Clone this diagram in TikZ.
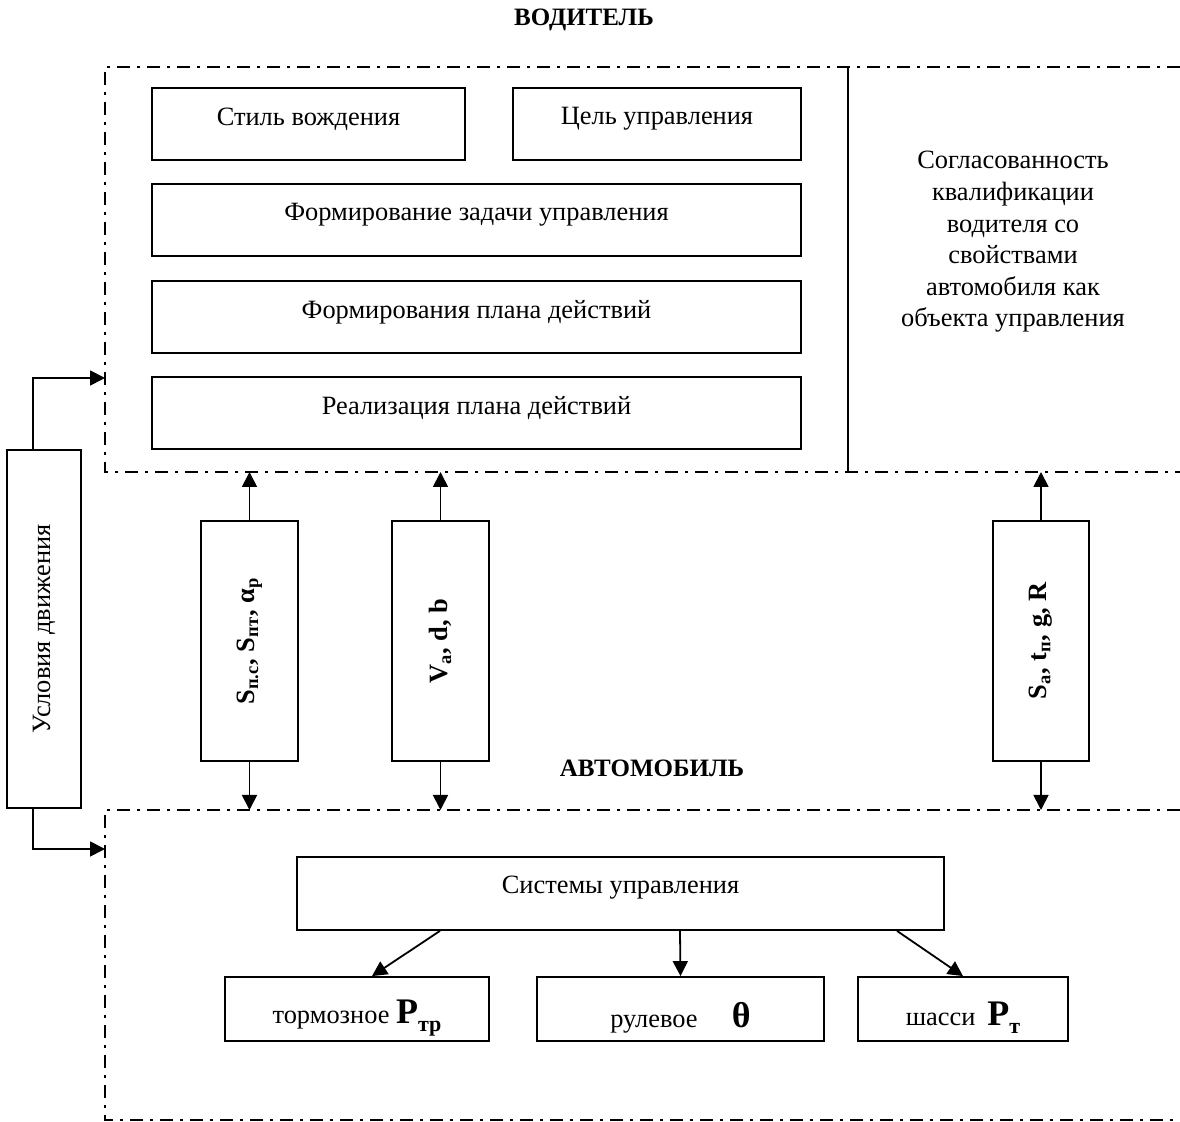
\documentclass[tikz,border=0pt]{standalone}
\usepackage{fontspec}
\setmainfont{Liberation Serif}
\usepackage{graphicx}
\usetikzlibrary{arrows.meta}

\tikzset{
  box/.style={draw, line width=0.9pt, inner sep=0pt, align=center},
  frameline/.style={line width=0.9pt, dash pattern=on 6.5pt off 3.5pt on 1.5pt off 3.5pt},
  arr/.style={line width=0.9pt, -{Triangle[length=7.5pt,width=7.5pt]}},
  title/.style={font=\fontsize{12.5pt}{15pt}\selectfont\bfseries},
}
\newcommand\sub[1]{\textsubscript{#1}}
% shift box text without changing the box size
\newcommand\up[2]{\raisebox{#1}[\height][\depth]{#2}}
\newcommand\bigsym[1]{{\fontsize{18pt}{18pt}\selectfont\bfseries #1}}
\newcommand\bigsub[1]{\raisebox{-0.3em}{\fontsize{11pt}{11pt}\selectfont\bfseries #1}}

\begin{document}
\begin{tikzpicture}[x=0.5pt, y={(0pt,-0.5pt)}, font=\fontsize{13.2pt}{15.8pt}\selectfont]
\useasboundingbox (0,0) rectangle (1180,1122);

% driver block frame and divider
\draw[frameline] (1180,67) -- (105,67) -- (105,472) -- (1180,472);
\draw[line width=0.6pt] (848,67) -- (848,472);
% vehicle block frame
\draw[frameline] (1180,810) -- (105,810) -- (105,1120) -- (1180,1120);

\coordinate (topline) at (0,472);
\coordinate (botline) at (0,810);
\coordinate (inTop) at (105,378);
\coordinate (inBot) at (105,849);

% titles
\node[title] (tdrv) at (584,20) {ВОДИТЕЛЬ};
\node[title] (tcar) at (652,768) {АВТОМОБИЛЬ};

% driver blocks
\node[box, minimum width=156.5pt, minimum height=36pt] (style) at (308.5,124) {\up{2.5pt}{Стиль вождения}};
\node[box, minimum width=144pt, minimum height=36pt] (goal) at (657,124) {\up{2.5pt}{Цель управления}};
\node[box, minimum width=324.5pt, minimum height=36pt] (task) at (476.5,220) {\up{2.5pt}{Формирование задачи управления}};
\node[box, minimum width=324.5pt, minimum height=36pt] (plan) at (476.5,317) {\up{2.5pt}{Формирования плана действий}};
\node[box, minimum width=324.5pt, minimum height=36pt] (impl) at (476.5,413) {\up{2.5pt}{Реализация плана действий}};

\node[align=center] (agree) at (1013,242) {Согласованность\\квалификации\\водителя со\\свойствами\\автомобиля как\\объекта управления};

% road conditions
\node[box, minimum width=37pt, minimum height=179pt] (cond) at (44,629) {\rotatebox{90}{Условия движения}};
\draw[arr] ([xshift=-5.5pt]cond.north) |- (inTop);
\draw[arr] ([xshift=-5.5pt]cond.south) |- (inBot);

% exchanged parameters
\node[box, minimum width=48.5pt, minimum height=120pt] (c1) at (249.5,641)
  {\rotatebox{90}{\bfseries S\sub{п.с}, S\sub{пт}, α\sub{р}}};
\node[box, minimum width=48.5pt, minimum height=120pt] (c2) at (440.5,641)
  {\rotatebox{90}{\bfseries V\sub{a}, d, b}};
\node[box, minimum width=48pt, minimum height=120pt] (c3) at (1041,641)
  {\rotatebox{90}{\bfseries S\sub{a}, t\sub{п}, g, R}};
\foreach \c in {c1,c2,c3}{
  \draw[arr] (\c.north) -- (\c.north |- topline);
  \draw[arr] (\c.south) -- (\c.south |- botline);
}

% vehicle control systems
\node[box, minimum width=323.5pt, minimum height=36.5pt] (sys) at (620.5,893.5) {\up{3pt}{Системы управления}};
\node[box, minimum width=132pt, minimum height=32pt] (brake) at (357,1009)
  {\up{-4.5pt}{тормозное \bigsym{P}\bigsub{тр}}};
\node[box, minimum width=143.5pt, minimum height=32pt] (steer) at (680.5,1009)
  {\up{-4.5pt}{рулевое\hspace{1.3em}\bigsym{θ}}};
\node[box, minimum width=105pt, minimum height=32pt] (chassis) at (963,1009)
  {\up{-4.5pt}{шасси\hspace{0.45em}\bigsym{P}\bigsub{т}}};

\draw[arr] ([xshift=-90.25pt]sys.south) -- ([xshift=7.5pt]brake.north);
\draw[arr] ([xshift=29.75pt]sys.south) -- (steer.north);
\draw[arr] ([xshift=138.25pt]sys.south) -- (chassis.north);
\end{tikzpicture}
\end{document}
